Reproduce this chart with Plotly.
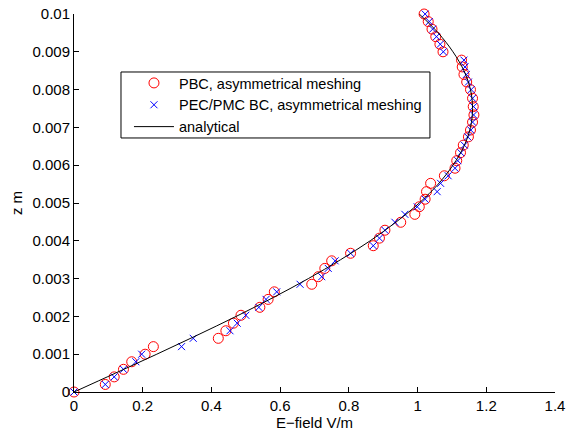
import plotly.graph_objects as go

# z positions (m) of the simulated samples
z_pts = [0.0100, 0.0098, 0.0096, 0.0094, 0.0092, 0.0090,
         0.00878, 0.0086, 0.0084, 0.0082, 0.0080,
         0.00777, 0.00755, 0.00733, 0.00714, 0.00693,
         0.00675, 0.00653, 0.00633, 0.00612, 0.00592,
         0.00572, 0.00552, 0.0053, 0.0051, 0.0049,
         0.0047, 0.00449, 0.00428, 0.00407, 0.00387,
         0.00367, 0.00347, 0.00327, 0.00305, 0.00285,
         0.00265, 0.00245, 0.00224, 0.00203, 0.00182,
         0.00162, 0.00142, 0.0012, 0.0010, 0.0008,
         0.0006, 0.0004, 0.0002, 0.0]

# PBC, asymmetrical meshing (E-field V/m)
e_pbc = [1.019, 1.031, 1.042, 1.053, 1.065, 1.074,
         1.128, 1.130, 1.135, 1.143, 1.154,
         1.160, 1.162, 1.164, 1.160, 1.154,
         1.148, 1.133, 1.125, 1.114, 1.109,
         1.078, 1.038, 1.026, 1.022, 1.005,
         0.992, 0.951, 0.905, 0.889, 0.871,
         0.805, 0.750, 0.730, 0.711, 0.692,
         0.583, 0.565, 0.541, 0.486, 0.464,
         0.442, 0.420, 0.231, 0.207, 0.168,
         0.144, 0.117, 0.091, 0.0]

# PEC/PMC BC, asymmetrical meshing (E-field V/m)
e_pec = [1.022, 1.034, 1.044, 1.055, 1.066, 1.075,
         1.135, 1.138, 1.142, 1.148, 1.156,
         1.160, 1.163, 1.163, 1.160, 1.155,
         1.146, 1.136, 1.126, 1.117, 1.109,
         1.089, 1.067, 1.057, 1.022, 0.999,
         0.963, 0.934, 0.905, 0.889, 0.871,
         0.805, 0.760, 0.740, 0.721, 0.658,
         0.590, 0.559, 0.538, 0.500, 0.475,
         0.454, 0.347, 0.313, 0.197, 0.180,
         0.144, 0.117, 0.091, 0.0]

# analytical curve
z_ana = [0.0, 0.0005, 0.001, 0.0015, 0.002, 0.0025, 0.003, 0.0035, 0.004,
         0.0045, 0.005, 0.0055, 0.006, 0.0065, 0.007, 0.0075, 0.008,
         0.0085, 0.009, 0.0095, 0.01]
e_ana = [0.0, 0.121, 0.241, 0.358, 0.472, 0.580, 0.682, 0.776, 0.862,
         0.938, 1.005, 1.060, 1.103, 1.135, 1.154, 1.160, 1.154,
         1.135, 1.103, 1.060, 1.005]

x_ticks = [0, 0.2, 0.4, 0.6, 0.8, 1.0, 1.2, 1.4]
x_ticktext = ["0", "0.2", "0.4", "0.6", "0.8", "1", "1.2", "1.4"]
y_ticks = [0, 0.001, 0.002, 0.003, 0.004, 0.005, 0.006, 0.007, 0.008, 0.009, 0.01]
y_ticktext = ["0", "0.001", "0.002", "0.003", "0.004", "0.005", "0.006",
              "0.007", "0.008", "0.009", "0.01"]

FONT = "Arial, Liberation Sans, Helvetica, sans-serif"

fig = go.Figure()
fig.add_trace(go.Scatter(
    x=e_pbc, y=z_pts, mode="markers", name="PBC, asymmetrical meshing",
    marker=dict(symbol="circle-open", size=10, color="#ff0000",
                line=dict(width=1, color="#ff0000")),
    cliponaxis=False))
fig.add_trace(go.Scatter(
    x=e_pec, y=z_pts, mode="markers", name="PEC/PMC BC, asymmetrical meshing",
    marker=dict(symbol="x-thin-open", size=7, color="#0000ff",
                line=dict(width=1, color="#0000ff")),
    cliponaxis=False))
fig.add_trace(go.Scatter(
    x=e_ana, y=z_ana, mode="lines", name="analytical",
    line=dict(color="black", width=1, shape="spline"),
    cliponaxis=False))

axis_common = dict(showline=True, linecolor="black", linewidth=1,
                   ticks="inside", ticklen=5, tickcolor="black", tickwidth=1,
                   showgrid=False, zeroline=False, mirror=False,
                   automargin=False, ticklabeloverflow="allow",
                   tickfont=dict(family=FONT, size=15, color="black"))

# legend frame (paper coords relative to plot area)
fig.add_shape(type="rect", xref="paper", yref="paper",
              x0=0.0977, x1=0.740, y0=0.672, y1=0.8466,
              line=dict(color="black", width=1), fillcolor="white",
              layer="below")

fig.update_layout(
    width=570, height=434,
    margin=dict(l=74, r=15, t=14, b=42),
    paper_bgcolor="white", plot_bgcolor="white",
    font=dict(family=FONT, size=15, color="black"),
    xaxis=dict(range=[0, 1.4], tickvals=x_ticks, ticktext=x_ticktext,
               title=dict(text="E\u2212field V/m", standoff=0,
                          font=dict(family=FONT, size=15)),
               **axis_common),
    yaxis=dict(range=[0, 0.01], tickvals=y_ticks, ticktext=y_ticktext,
               title=dict(text="z m", standoff=6,
                          font=dict(family=FONT, size=15)),
               **axis_common),
    legend=dict(x=0.1143, y=0.8598, xanchor="left", yanchor="top",
                bgcolor="rgba(0,0,0,0)", borderwidth=0,
                font=dict(family=FONT, size=14.5, color="black"),
                itemwidth=40),
    showlegend=True,
)

fig.write_html("out.html",
               config={"displayModeBar": False},
               post_script="document.body.style.margin='0px';"
                           "document.body.style.overflow='hidden';")
